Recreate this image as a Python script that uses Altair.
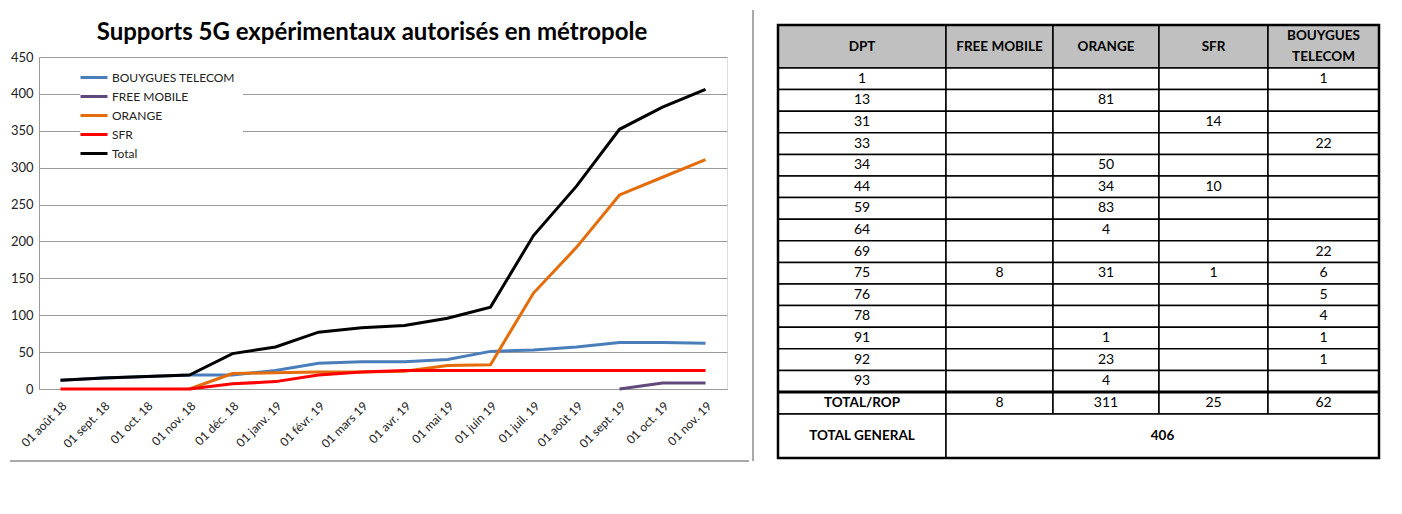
import altair as alt
import pandas as pd

FONT = "Lato"

# ---------------- line chart data ----------------
months = ["01 août 18", "01 sept. 18", "01 oct. 18", "01 nov. 18", "01 déc. 18",
          "01 janv. 19", "01 févr. 19", "01 mars 19", "01 avr. 19", "01 mai 19",
          "01 juin 19", "01 juil. 19", "01 août 19", "01 sept. 19", "01 oct. 19",
          "01 nov. 19"]
series_names = ["BOUYGUES TELECOM", "FREE MOBILE", "ORANGE", "SFR", "Total"]
bouygues = [12, 15, 17, 19, 19, 25, 35, 37, 37, 40, 51, 53, 57, 63, 63, 62]
free_mobile = [None] * 13 + [0, 8, 8]
orange = [None, None, None, 0, 21, 22, 23, 23, 24, 32, 33, 130, 192, 263, 287, 311]
sfr = [0, 0, 0, 0, 7, 10, 19, 23, 25, 25, 25, 25, 25, 25, 25, 25]
total = [12, 15, 17, 19, 48, 57, 77, 83, 86, 96, 111, 208, 275, 352, 382, 406]
series_colors = ["#4a7ebb", "#604a7b", "#e46c0a", "#ff0000", "#000000"]

# ---------------- table data ----------------
table_headers = ["DPT", "FREE MOBILE", "ORANGE", "SFR", "BOUYGUES\nTELECOM"]
dpt = ["1", "13", "31", "33", "34", "44", "59", "64", "69", "75", "76", "78", "91", "92", "93"]
t_free = ["", "", "", "", "", "", "", "", "", "8", "", "", "", "", ""]
t_orange = ["", "81", "", "", "50", "34", "83", "4", "", "31", "", "", "1", "23", "4"]
t_sfr = ["", "", "14", "", "", "10", "", "", "", "1", "", "", "", "", ""]
t_bouygues = ["1", "", "", "22", "", "", "", "", "22", "6", "5", "4", "1", "1", ""]
total_rop_label = "TOTAL/ROP"
total_rop = ["8", "311", "25", "62"]
total_general_label = "TOTAL GENERAL"
total_general = "406"

rows = []
for name, vals in zip(series_names, [bouygues, free_mobile, orange, sfr, total]):
    for m, v in zip(months, vals):
        if v is not None:
            rows.append({"mois": m, "serie": name, "valeur": v})
df = pd.DataFrame(rows)

lines = alt.Chart(df).mark_line(strokeWidth=3).encode(
    x=alt.X("mois:O", sort=months, scale=alt.Scale(type="point", padding=0.5),
            axis=alt.Axis(title=None, labelAngle=-45, ticks=False, labelFontSize=12,
                          domainColor="#9a9a9a", labelColor="#222222", labelPadding=11,
                          labelFont=FONT)),
    y=alt.Y("valeur:Q", scale=alt.Scale(domain=[0, 450]),
            axis=alt.Axis(title=None, values=list(range(0, 451, 50)), grid=True,
                          gridColor="#9a9a9a", domainColor="#9a9a9a", ticks=False,
                          labelFontSize=13, labelPadding=6, labelColor="#222222",
                          labelFont=FONT)),
    color=alt.Color("serie:N", sort=series_names,
                    scale=alt.Scale(domain=series_names, range=series_colors),
                    legend=alt.Legend(title=None, orient="none", legendX=41, legendY=2,
                                      symbolType="M-2,0H1", symbolStrokeWidth=3,
                                      symbolSize=324, labelFontSize=12, labelFont=FONT,
                                      labelColor="#222222", fillColor="white",
                                      labelOffset=3, padding=8, rowPadding=2)),
)

dummy = pd.DataFrame({"a": [0]})
frame_bottom = alt.Chart(dummy).mark_rule(color="#8c8c8c", strokeWidth=1.5).encode(
    x=alt.value(-29), x2=alt.value(710), y=alt.value(404))

left = alt.layer(lines, frame_bottom).properties(
    width=688, height=332,
    title=alt.TitleParams("Supports 5G expérimentaux autorisés en métropole",
                          fontSize=24, font=FONT, fontWeight="bold", offset=6,
                          color="black", anchor="middle", dx=-11),
)

# ---------------- table layout ----------------
col_widths = [168, 107, 106, 109, 111]
header_h, row_h, rop_h, gen_h = 43, 21.6, 22, 44
col_edges = [0]
for w in col_widths:
    col_edges.append(col_edges[-1] + w)
TW = col_edges[-1]

cells = []
def add(c0, c1, y0, y1, text, bold, fill):
    cells.append({"x0": col_edges[c0], "x1": col_edges[c1], "y0": y0, "y1": y1,
                  "cx": (col_edges[c0] + col_edges[c1]) / 2, "cy": (y0 + y1) / 2,
                  "text": text, "bold": bold, "fill": fill,
                  "multi": "\n" in text})

for c, h in enumerate(table_headers):
    add(c, c + 1, 0, header_h, h, True, "#c0c0c0")
y = header_h
for r in range(len(dpt)):
    vals = [dpt[r], t_free[r], t_orange[r], t_sfr[r], t_bouygues[r]]
    for c, v in enumerate(vals):
        add(c, c + 1, y, y + row_h, v, False, "white")
    y += row_h
rop_top = y
add(0, 1, y, y + rop_h, total_rop_label, True, "white")
for c, v in enumerate(total_rop):
    add(c + 1, c + 2, y, y + rop_h, v, False, "white")
y += rop_h
add(0, 1, y, y + gen_h, total_general_label, True, "white")
add(1, 5, y, y + gen_h, total_general, True, "white")
y += gen_h
TH = y
cdf = pd.DataFrame(cells)

TOP = 32  # table top sits above the line chart's plot top
xs = alt.Scale(domain=[0, TW], range=[0, TW])
ys = alt.Scale(domain=[0, TH], range=[-TOP, TH - TOP])

rects = alt.Chart(cdf).mark_rect(stroke="black", strokeWidth=1.5).encode(
    x=alt.X("x0:Q", scale=xs, axis=None), x2="x1:Q",
    y=alt.Y("y0:Q", scale=ys, axis=None), y2="y1:Q",
    fill=alt.Fill("fill:N", scale=None),
)
txt_reg = alt.Chart(cdf).transform_filter("!datum.bold").mark_text(
    font=FONT, fontSize=14, color="black").encode(
    x=alt.X("cx:Q", scale=xs, axis=None), y=alt.Y("cy:Q", scale=ys, axis=None),
    text="text:N")
txt_bold = alt.Chart(cdf).transform_filter("datum.bold && !datum.multi").mark_text(
    font=FONT, fontSize=13.5, fontWeight="bold", color="black").encode(
    x=alt.X("cx:Q", scale=xs, axis=None), y=alt.Y("cy:Q", scale=ys, axis=None),
    text="text:N")
txt_multi = alt.Chart(cdf).transform_filter("datum.multi").mark_text(
    font=FONT, fontSize=13.5, fontWeight="bold", color="black", lineBreak="\n",
    lineHeight=21, dy=-10.5).encode(
    x=alt.X("cx:Q", scale=xs, axis=None), y=alt.Y("cy:Q", scale=ys, axis=None),
    text="text:N")

border_df = pd.DataFrame({"x0": [0], "x1": [TW], "y0": [0], "y1": [TH]})
border = alt.Chart(border_df).mark_rect(fillOpacity=0, stroke="black", strokeWidth=2.5).encode(
    x=alt.X("x0:Q", scale=xs, axis=None), x2="x1:Q",
    y=alt.Y("y0:Q", scale=ys, axis=None), y2="y1:Q")
rop_df = pd.DataFrame({"x0": [0], "x1": [TW], "y0": [rop_top]})
rop_line = alt.Chart(rop_df).mark_rule(color="black", strokeWidth=3).encode(
    x=alt.X("x0:Q", scale=xs, axis=None), x2="x1:Q",
    y=alt.Y("y0:Q", scale=ys, axis=None))

# right edge of the line chart's frame (drawn with the table so it does not push the title)
frame_right = alt.Chart(dummy).mark_rule(color="#8c8c8c", strokeWidth=1.5).encode(
    x=alt.value(-25), y=alt.value(-47), y2=alt.value(404))

table = alt.layer(frame_right, rects, rop_line, border, txt_reg, txt_bold, txt_multi).properties(
    width=TW, height=TH - TOP)

chart = alt.hconcat(left, table, spacing=0, padding=0).configure_view(
    stroke=None).configure(font=FONT, background="white")

chart.save("out.html", embed_options={"renderer": "svg", "actions": False})
